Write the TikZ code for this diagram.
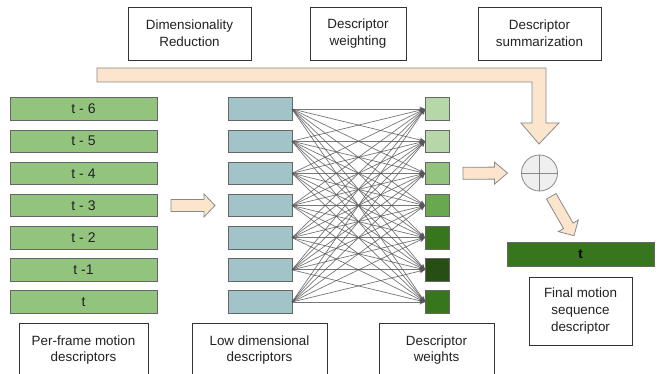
\documentclass[tikz,border=0pt]{standalone}
\usepackage{fontspec}
\setmainfont{Liberation Sans}
\usetikzlibrary{arrows.meta,calc}
\definecolor{framegreen}{HTML}{93C47D}
\definecolor{lowteal}{HTML}{A2C4C9}
\definecolor{peach}{HTML}{FCE5CD}
\definecolor{wA}{HTML}{B6D7A8}
\definecolor{wB}{HTML}{93C47D}
\definecolor{wC}{HTML}{6AA84F}
\definecolor{wD}{HTML}{38761D}
\definecolor{wE}{HTML}{274E13}
\definecolor{boxline}{HTML}{666666}
\definecolor{lblline}{HTML}{333333}
\definecolor{txt}{HTML}{222222}
\definecolor{arrline}{HTML}{8A8A8A}
\definecolor{netline}{HTML}{555555}
\newcommand\fatarr[5]{%
  \coordinate (fh) at ($(#2)!#5!(#1)$);
  \draw[fatarrow] ($(#1)!#3!90:(#2)$) -- ($(fh)!#3!90:(#2)$) -- ($(fh)!#4!90:(#2)$) -- (#2)
     -- ($(fh)!#4!-90:(#2)$) -- ($(fh)!#3!-90:(#2)$) -- ($(#1)!#3!-90:(#2)$) -- cycle;}
\begin{document}
\begin{tikzpicture}[x=1pt,y=-1pt,
  every node/.style={inner sep=0pt, outer sep=0pt, text=txt},
  lbl/.style={draw=lblline, line width=0.8pt, fill=white, align=center,
     font=\fontsize{13.4}{16.6}\selectfont},
  framebox/.style={draw=boxline, line width=0.7pt, fill=framegreen,
     minimum width=147pt, minimum height=22.5pt, font=\fontsize{14}{16}\selectfont},
  lowbox/.style={draw=boxline, line width=0.7pt, fill=lowteal,
     minimum width=64pt, minimum height=22.5pt},
  wbox/.style={draw=boxline, line width=0.7pt, minimum width=24pt, minimum height=22.5pt},
  fatarrow/.style={draw=arrline, line width=0.8pt, fill=peach, line join=miter},
  netarrow/.style={draw=netline, line width=0.7pt, opacity=0.8,
     -{Stealth[length=5.5pt,width=5pt]}}
]
\clip (0,0) rectangle (659,374);
\fill[white] (0,0) rectangle (659,374);

% top labels
\node[lbl, minimum width=123pt, minimum height=53pt] (dimred) at (189.5,33.5) {Dimensionality\\Reduction};
\node[lbl, minimum width=96pt, minimum height=53pt] (dweight) at (358,33.5) {Descriptor\\weighting};
\node[lbl, minimum width=123pt, minimum height=53pt] (dsum) at (539.5,33.5) {Descriptor\\summarization};

% rows
\foreach \i/\lab/\col in {0/t - 6/wA, 1/t - 5/wA, 2/t - 4/wB, 3/t - 3/wC, 4/t - 2/wD, 5/t -1/wE, 6/t/wD} {
  \pgfmathsetmacro{\yy}{109+32.17*\i}
  \node[framebox] (f\i) at (83.5,\yy) {\lab};
  \node[lowbox] (l\i) at (260,\yy) {};
  \node[wbox, fill=\col] (w\i) at (437,\yy) {};
}

% network connections
\foreach \i in {0,...,6} {
  \foreach \j in {0,...,6} {
    \draw[netarrow] (l\i.east) -- (w\j.west);
  }
}

% circle
\node[circle, draw=arrline, line width=0.8pt, fill={rgb,255:red,239;green,239;blue,239},
  minimum size=36pt] (sum) at (539.5,173) {};
\draw[arrline, line width=0.8pt] (sum.north) -- (sum.south) (sum.west) -- (sum.east);

% final
\node[draw=boxline, line width=0.7pt, fill=wD, minimum width=147pt, minimum height=24pt,
  font=\fontsize{13.4}{16}\selectfont\bfseries, text=black] (final) at (580.5,254) {t};

% bottom labels
\node[lbl, minimum width=129pt, minimum height=54pt] (pf) at (83.5,350) {Per-frame motion\\descriptors};
\node[lbl, minimum width=135pt, minimum height=54pt] (ld) at (259.5,350) {Low dimensional\\descriptors};
\node[lbl, minimum width=115pt, minimum height=54pt] (dw) at (436.5,350) {Descriptor\\weights};
\node[lbl, minimum width=103pt, minimum height=68pt] (fm) at (580.5,311) {Final motion\\sequence\\descriptor};

% fat arrows
\coordinate (a1s) at (171,205.5);
\coordinate (a1e) at ($(l3.west)+(-13,0)$);
\fatarr{a1s}{a1e}{6pt}{11.5pt}{11pt}
\coordinate (a2s) at ($(w2.east)+(14,0)$);
\coordinate (a2e) at ($(sum.west)+(-14,0)$);
\fatarr{a2s}{a2e}{6pt}{11pt}{13pt}
\coordinate (a3s) at (551.3,196.3);
\coordinate (a3e) at (574,235.7);
\fatarr{a3s}{a3e}{5.5pt}{11.5pt}{11.4pt}

% bent arrow
\draw[fatarrow] (97,68) -- (546,68) -- (546,123) -- (559,123) -- (539,144)
  -- (521,123) -- (532,123) -- (532,82) -- (97,82) -- cycle;
\end{tikzpicture}
\end{document}
